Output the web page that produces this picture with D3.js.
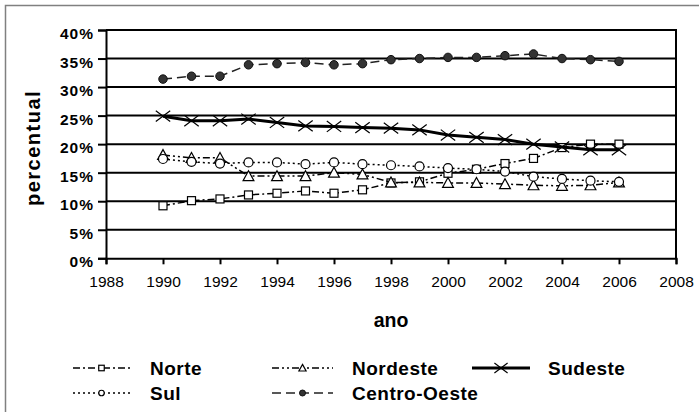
<!DOCTYPE html>
<html><head><meta charset="utf-8">
<script src="https://cdn.jsdelivr.net/npm/d3@7"></script>
<style>body{margin:0;background:#fff}svg{display:block;font-family:"Liberation Sans",Arial,sans-serif}</style>
</head><body><svg id="c" width="699" height="412"></svg>
<script>
const years = [1990,1991,1992,1993,1994,1995,1996,1997,1998,1999,2000,2001,2002,2003,2004,2005,2006];
const norte = [9.2,10.1,10.4,11.1,11.4,11.8,11.4,12.0,13.2,13.4,14.9,15.6,16.6,17.5,19.4,20.0,20.0];
const nordeste = [18.1,17.6,17.6,14.4,14.4,14.4,15.0,14.7,13.3,13.3,13.2,13.2,13.0,12.8,12.7,12.8,13.3];
const sudeste = [24.9,24.1,24.1,24.4,23.8,23.2,23.1,22.9,22.8,22.5,21.6,21.2,20.8,20.0,19.5,19.0,19.0];
const sul = [17.4,16.9,16.6,16.8,16.8,16.5,16.8,16.5,16.3,16.1,15.8,15.6,15.2,14.3,13.9,13.6,13.4];
const centroOeste = [31.4,31.9,31.9,33.9,34.1,34.3,33.9,34.1,34.8,35.0,35.2,35.2,35.5,35.8,35.0,34.8,34.5];
const xTicks = [1988,1990,1992,1994,1996,1998,2000,2002,2004,2006,2008];
const yTicks = [0,5,10,15,20,25,30,35,40];
const seriesNames = ["Norte","Nordeste","Sudeste","Sul","Centro-Oeste"];

const svg = d3.select("#c");
const x = d3.scaleLinear().domain([1988,2008]).range([106,676]);
const y = d3.scaleLinear().domain([0,40]).range([258.3,30]);

// outer frame
svg.append("rect").attr("x",5.5).attr("y",5.5).attr("width",720).attr("height",440)
  .attr("fill","#fff").attr("stroke","#808080").attr("stroke-width",1.5);

// gridlines
svg.append("g").selectAll("line").data(yTicks.filter(d=>d>0)).join("line")
  .attr("x1",x(1988)).attr("x2",x(2008)).attr("y1",d=>y(d)).attr("y2",d=>y(d))
  .attr("stroke","#000").attr("stroke-width",2);
// right border
svg.append("line").attr("x1",x(2008)).attr("x2",x(2008)).attr("y1",y(40)-1).attr("y2",y(0))
  .attr("stroke","#000").attr("stroke-width",2);

// y axis
const yAxis = d3.axisLeft(y).tickValues(yTicks).tickSize(8).tickPadding(5).tickFormat(d=>d+"%");
const ga = svg.append("g").attr("transform",`translate(${x(1988)},0)`).call(yAxis);
ga.select(".domain").attr("stroke","#000").attr("stroke-width",2);
ga.selectAll(".tick line").attr("stroke","#000").attr("stroke-width",2);
ga.selectAll(".tick text").attr("font-size","15.5px").attr("font-weight","bold")
  .attr("letter-spacing","1px").attr("fill","#000").attr("font-family","Liberation Sans, Arial, sans-serif")
  .attr("dy","0.72em").attr("y",-2.5).attr("x",-12);

// x axis
const xAxis = d3.axisBottom(x).tickValues(xTicks).tickSize(6).tickPadding(12).tickFormat(d3.format("d"));
const gx = svg.append("g").attr("transform",`translate(0,${y(0)})`).call(xAxis);
gx.select(".domain").attr("stroke","#000").attr("stroke-width",2);
gx.selectAll(".tick line").attr("stroke","#000").attr("stroke-width",2);
gx.selectAll(".tick text").attr("font-size","15.5px").attr("fill","#000")
  .attr("font-family","Liberation Sans, Arial, sans-serif");

// axis titles
svg.append("text").attr("transform","translate(40,148) rotate(-90)").attr("text-anchor","middle")
  .attr("font-size","20px").attr("font-weight","bold").attr("letter-spacing","1.5px").text("percentual");
svg.append("text").attr("x",391).attr("y",327).attr("text-anchor","middle")
  .attr("font-size","19.5px").attr("font-weight","bold").text("ano");

const styles = {
  "Norte": {data:norte, dash:"7,3,2,3", w:1.5, color:"#000", marker:"square"},
  "Nordeste": {data:nordeste, dash:"7,3,2,3,2,3", w:1.5, color:"#000", marker:"triangle"},
  "Sudeste": {data:sudeste, dash:null, w:3, color:"#000", marker:"x"},
  "Sul": {data:sul, dash:"2,3", w:1.5, color:"#000", marker:"circle"},
  "Centro-Oeste": {data:centroOeste, dash:"9,5", w:1.5, color:"#222", marker:"dot"}
};

function drawMarker(g, type, cx, cy, s) {
  if (type==="square") {
    g.append("rect").attr("x",cx-s/2).attr("y",cy-s/2).attr("width",s).attr("height",s)
      .attr("fill","#fff").attr("stroke","#000").attr("stroke-width",1.2);
  } else if (type==="triangle") {
    const h=s*1.0;
    g.append("path").attr("d",`M${cx},${cy-h*0.6}L${cx+s*0.6},${cy+h*0.5}L${cx-s*0.6},${cy+h*0.5}Z`)
      .attr("fill","#fff").attr("stroke","#000").attr("stroke-width",1.2);
  } else if (type==="circle") {
    g.append("circle").attr("cx",cx).attr("cy",cy).attr("r",s/2)
      .attr("fill","#fff").attr("stroke","#000").attr("stroke-width",1.2);
  } else if (type==="dot") {
    g.append("circle").attr("cx",cx).attr("cy",cy).attr("r",s/2)
      .attr("fill","#333").attr("stroke","#111").attr("stroke-width",1);
  } else if (type==="x") {
    const a=s*0.6, b=s*0.45;
    g.append("path").attr("d",`M${cx-a},${cy-b}L${cx+a},${cy+b}M${cx-a},${cy+b}L${cx+a},${cy-b}`)
      .attr("stroke","#000").attr("stroke-width",1.2).attr("fill","none");
  }
}

const line = d3.line().x((d,i)=>x(years[i])).y(d=>y(d));
const sizes = {square:8, triangle:9, circle:9, dot:8.5, x:12};

seriesNames.forEach(name=>{
  const st = styles[name];
  const g = svg.append("g");
  g.append("path").datum(st.data).attr("d",line).attr("fill","none")
    .attr("stroke",st.color).attr("stroke-width",st.w)
    .attr("stroke-dasharray",st.dash);
  st.data.forEach((v,i)=>drawMarker(g, st.marker, x(years[i]), y(v), sizes[st.marker]));
});

// legend
const legendPos = {
  "Norte": {x1:73, x2:130, tx:150, y:368},
  "Nordeste": {x1:272, x2:333, tx:352, y:368},
  "Sudeste": {x1:472, x2:530, tx:548, y:368},
  "Sul": {x1:73, x2:130, tx:150, y:393},
  "Centro-Oeste": {x1:272, x2:333, tx:352, y:393}
};
const lsizes = {square:5.5, triangle:6, circle:5.5, dot:6, x:11};
seriesNames.forEach(name=>{
  const st = styles[name], p = legendPos[name];
  const g = svg.append("g");
  g.append("line").attr("x1",p.x1).attr("x2",p.x2).attr("y1",p.y).attr("y2",p.y)
    .attr("stroke",st.color).attr("stroke-width",st.w).attr("stroke-dasharray",st.dash);
  drawMarker(g, st.marker, (p.x1+p.x2)/2, p.y, lsizes[st.marker]);
  g.append("text").attr("x",p.tx).attr("y",p.y+7).attr("font-size","19px").attr("font-weight","bold")
    .attr("letter-spacing","0.5px").text(name);
});
</script></body></html>
